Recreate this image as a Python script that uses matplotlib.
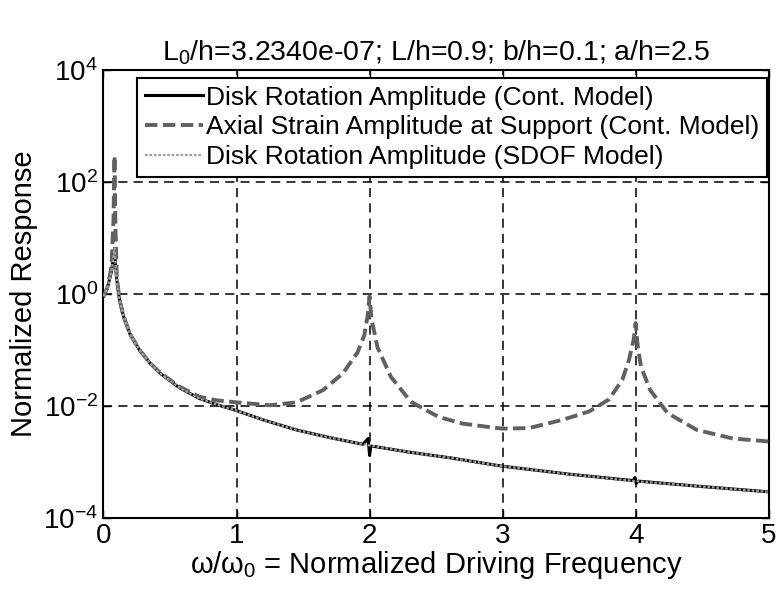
import matplotlib
matplotlib.use('Agg')
import matplotlib.pyplot as plt

plt.rcParams['font.family'] = ['Liberation Sans', 'DejaVu Sans']
plt.rcParams['mathtext.fontset'] = 'custom'
plt.rcParams['mathtext.rm'] = 'Liberation Sans'
plt.rcParams['mathtext.it'] = 'Liberation Sans'

''' Data read from the reference picture '''
# Disk rotation amplitude, continuous model
x_rot_cont = [0, 0.03, 0.06, 0.075, 0.083, 0.09, 0.1, 0.12, 0.15, 0.2, 0.27, 0.35,
              0.42, 0.5, 0.57, 0.72, 0.85, 1.0, 1.2, 1.45, 1.7, 1.95, 1.99, 2.0,
              2.01, 2.05, 2.3, 2.6, 3.0, 3.5, 3.98, 3.995, 4.005, 4.02, 4.5, 5.0]
y_rot_cont = [0.9, 1.3, 2.5, 4.5, 6.5, 3.5, 1.8, 0.8, 0.4, 0.19, 0.1, 0.058,
              0.039, 0.028, 0.021, 0.0135, 0.0105, 0.0082, 0.0056, 0.0037, 0.0027, 0.00205, 0.0026, 0.0013,
              0.0019, 0.00185, 0.00148, 0.00118, 0.00083, 0.0006, 0.00046, 0.00052, 0.00041, 0.00045, 0.00036, 0.00029]

# Axial strain amplitude at support, continuous model
x_strain = [0, 0.03, 0.06, 0.075, 0.083, 0.09, 0.1, 0.12, 0.15, 0.2, 0.27, 0.35,
            0.42, 0.5, 0.57, 0.72, 0.85, 1.0, 1.25, 1.45, 1.65, 1.8, 1.91, 1.96,
            1.985, 2.0, 2.015, 2.06, 2.16, 2.31, 2.52, 2.7, 2.92, 3.0, 3.2, 3.45,
            3.65, 3.8, 3.9, 3.95, 3.985, 4.0, 4.015, 4.04, 4.11, 4.24, 4.46, 4.73, 5.0]
y_strain = [0.9, 1.3, 3.0, 20, 290, 15, 2.0, 0.8, 0.4, 0.19, 0.1, 0.058,
            0.04, 0.029, 0.022, 0.0145, 0.0125, 0.0115, 0.0102, 0.0115, 0.019, 0.038, 0.09, 0.18,
            0.4, 0.9, 0.35, 0.11, 0.033, 0.0118, 0.0063, 0.0048, 0.0041, 0.0039, 0.004, 0.0056,
            0.0079, 0.013, 0.029, 0.066, 0.15, 0.3, 0.12, 0.05, 0.019, 0.0074, 0.0037, 0.0026, 0.0023]

# Disk rotation amplitude, SDOF model
x_rot_sdof = [0, 0.03, 0.06, 0.075, 0.083, 0.09, 0.1, 0.12, 0.15, 0.2, 0.27, 0.35,
              0.42, 0.5, 0.57, 0.72, 0.85, 1.0, 1.2, 1.45, 1.7, 2.0, 2.3, 2.6,
              3.0, 3.5, 4.0, 4.5, 5.0]
y_rot_sdof = [0.9, 1.3, 2.5, 4.5, 6.5, 3.5, 1.8, 0.8, 0.4, 0.19, 0.1, 0.058,
              0.039, 0.028, 0.021, 0.0135, 0.0105, 0.0082, 0.0056, 0.0037, 0.0027, 0.00195, 0.00148, 0.00118,
              0.00083, 0.0006, 0.00045, 0.00036, 0.00029]

x_ticks = [0, 1, 2, 3, 4, 5]
y_ticks = [1e-4, 1e-2, 1e0, 1e2, 1e4]


def main():
    fig = plt.figure(figsize=(7.78, 5.93), dpi=100)
    ax = fig.add_axes([0.133, 0.127, 0.855, 0.755])

    ax.plot(x_rot_cont, y_rot_cont, color='black', lw=2.2, ls='-',
            label='Disk Rotation Amplitude (Cont. Model)', zorder=3)
    ax.plot(x_strain, y_strain, color='#606060', lw=2.8, ls=(0, (3.2, 1.4)),
            label='Axial Strain Amplitude at Support (Cont. Model)', zorder=4)
    ax.plot(x_rot_sdof, y_rot_sdof, color='#a0a0a0', lw=1.6, ls=(0, (1.2, 0.8)),
            label='Disk Rotation Amplitude (SDOF Model)', zorder=5)

    ax.set_yscale('log')
    ax.set_xlim(0, 5)
    ax.set_ylim(1e-4, 1e4)
    ax.set_xticks(x_ticks)
    ax.set_yticks(y_ticks)
    ax.minorticks_off()
    ax.tick_params(direction='in', top=True, right=True, length=6, width=1,
                   labelsize=20, pad=4)

    ax.grid(True, color='black', ls=(0, (6, 4)), lw=1.1)
    for spine in ax.spines.values():
        spine.set_linewidth(1.5)

    ax.set_title(r'L$_0$/h=3.2340e-07; L/h=0.9; b/h=0.1; a/h=2.5', fontsize=20.5, pad=7)
    ax.set_xlabel(r'$\omega/\omega_0$ = Normalized Driving Frequency', fontsize=21, labelpad=0)
    ax.set_ylabel('Normalized Response', fontsize=21, labelpad=4)

    leg = ax.legend(loc='upper right', bbox_to_anchor=(0.997, 0.983), fontsize=19,
                    handlelength=2.2, handletextpad=0.1, borderpad=0.3, labelspacing=0.22,
                    fancybox=False, framealpha=1, borderaxespad=0)
    leg.get_frame().set_edgecolor('black')
    leg.get_frame().set_linewidth(1.5)

    fig.savefig('out.png', dpi=100)


if __name__ == '__main__':
    main()
